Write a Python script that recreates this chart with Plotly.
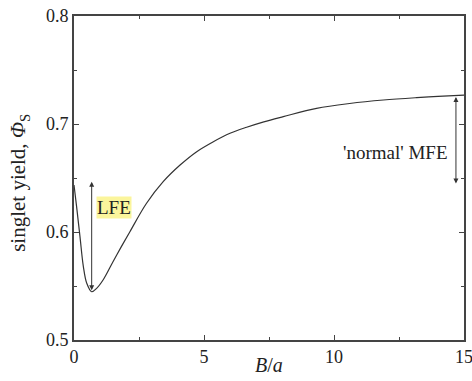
import plotly.graph_objects as go

# data
B_over_a = [0, 0.1, 0.23, 0.36, 0.49, 0.68, 0.87, 1.13, 1.5, 1.8, 2.15, 2.79, 3.43, 4.08,
            4.72, 5.36, 6.0, 6.64, 7.3, 8.05, 9.33, 10.6, 11.9, 13.18, 14.0, 15]
phi_S = [0.6435, 0.6235, 0.5957, 0.568, 0.5525, 0.5447, 0.5478, 0.556, 0.5725, 0.5855,
         0.6003, 0.6266, 0.6466, 0.662, 0.6744, 0.6836, 0.6914, 0.697, 0.702, 0.7068,
         0.7145, 0.719, 0.7222, 0.7244, 0.7255, 0.7268]

x_ticks = [0, 5, 10, 15]
y_ticks = [0.5, 0.6, 0.7, 0.8]

lfe_x, lfe_lo, lfe_hi = 0.68, 0.5447, 0.6466
mfe_x, mfe_lo, mfe_hi = 14.69, 0.645, 0.7265

FONT = "Liberation Serif"
AX = "#444444"
TXT = "#222222"

fig = go.Figure()
fig.add_trace(go.Scatter(x=B_over_a, y=phi_S, mode="lines",
                         line=dict(color="#333333", width=1.2, shape="spline", smoothing=1.0),
                         hoverinfo="skip", showlegend=False))

axis_common = dict(showgrid=False, zeroline=False, showline=True, linecolor=AX, linewidth=1.6,
                   mirror="ticks", ticks="inside", ticklen=5, tickcolor=AX, tickwidth=1,
                   automargin=False, ticklabeloverflow="allow",
                   tickfont=dict(family=FONT, size=18, color=TXT))

fig.update_xaxes(range=[0, 15], tickvals=x_ticks, ticktext=[str(v) for v in x_ticks],
                 minor=dict(ticks="inside", dtick=2.5, tick0=0, ticklen=3, tickcolor=AX),
                 **axis_common)
fig.update_yaxes(range=[0.5, 0.8], tickvals=y_ticks, ticktext=[f"{v:.1f}" for v in y_ticks],
                 minor=dict(ticks="inside", dtick=0.05, tick0=0.5, ticklen=3, tickcolor=AX),
                 **axis_common)

# axis titles (placed as paper annotations for exact positioning)
fig.add_annotation(x=0.5, y=-0.077, xref="paper", yref="paper", text="<i>B</i>/<i>a</i>",
                   showarrow=False, xanchor="center", yanchor="middle",
                   font=dict(family=FONT, size=20, color=TXT))
fig.add_annotation(x=-0.141, y=0.485, xref="paper", yref="paper",
                   text="singlet yield, <i>Φ</i><sub>S</sub>", textangle=-90,
                   showarrow=False, xanchor="center", yanchor="middle",
                   font=dict(family=FONT, size=21, color=TXT))

arrow_style = dict(showarrow=True, arrowhead=2, startarrowhead=2, arrowside="end+start",
                   arrowsize=1, arrowwidth=1, arrowcolor="#333333", text="",
                   axref="x", ayref="y", standoff=0, startstandoff=0)
fig.add_annotation(x=lfe_x, y=lfe_hi, ax=lfe_x, ay=lfe_lo, **arrow_style)
fig.add_annotation(x=mfe_x, y=mfe_lo, ax=mfe_x, ay=mfe_hi, **arrow_style)

fig.add_annotation(x=0.86, y=0.623, text="LFE", showarrow=False, xanchor="left",
                   bgcolor="#fbf59c", borderpad=0,
                   font=dict(family=FONT, size=19, color=TXT))
fig.add_annotation(x=14.42, y=0.674, text="'normal' MFE", showarrow=False, xanchor="right",
                   font=dict(family=FONT, size=19, color=TXT))

fig.update_layout(width=472, height=381, margin=dict(l=74, r=8, t=16, b=41),
                  font=dict(family=FONT, size=18, color=TXT),
                  plot_bgcolor="white", paper_bgcolor="white")

fig.write_html("out.html")
